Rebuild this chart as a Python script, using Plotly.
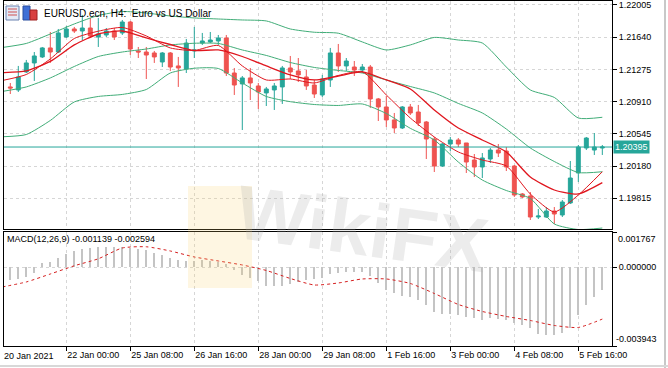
import plotly.graph_objects as go

# ---------------- data ----------------
bar_index = list(range(75))
open_ = [1.21076, 1.21042, 1.21246, 1.21348, 1.21416, 1.21518, 1.21472, 1.21642, 1.21733, 1.21710,
         1.21744, 1.21642, 1.21665, 1.21710, 1.21688, 1.21812, 1.21484, 1.21472, 1.21461, 1.21359,
         1.21461, 1.21314, 1.21280, 1.21484, 1.21574, 1.21586, 1.21597, 1.21631, 1.21234, 1.21110,
         1.21178, 1.21087, 1.21008, 1.21042, 1.21076, 1.21291, 1.21257, 1.21189, 1.21098, 1.20985,
         1.21155, 1.21461, 1.21314, 1.21302, 1.21268, 1.21302, 1.20940, 1.20849, 1.20702, 1.20611,
         1.20849, 1.20792, 1.20679, 1.20486, 1.20180, 1.20429, 1.20475, 1.20441, 1.20248, 1.20169,
         1.20259, 1.20361, 1.20350, 1.20180, 1.19863, 1.19840, 1.19602, 1.19602, 1.19670, 1.19625,
         1.19761, 1.20101, 1.20384, 1.20361, 1.20384]
high = [1.21121, 1.21314, 1.21382, 1.21472, 1.21529, 1.21699, 1.21733, 1.21767, 1.21756, 1.21892,
        1.21858, 1.21858, 1.21744, 1.21744, 1.21835, 1.21824, 1.21529, 1.21529, 1.21484, 1.21472,
        1.21472, 1.21416, 1.21620, 1.21756, 1.21688, 1.21699, 1.21665, 1.21665, 1.21291, 1.21200,
        1.21291, 1.21121, 1.21076, 1.21121, 1.21314, 1.21427, 1.21404, 1.21268, 1.21155, 1.21212,
        1.21518, 1.21563, 1.21404, 1.21370, 1.21336, 1.21325, 1.20951, 1.20974, 1.20781, 1.20860,
        1.20883, 1.20872, 1.20690, 1.20509, 1.20441, 1.20509, 1.20497, 1.20441, 1.20316, 1.20327,
        1.20384, 1.20429, 1.20395, 1.20191, 1.19874, 1.19885, 1.19693, 1.19715, 1.19715, 1.19795,
        1.20237, 1.20418, 1.20509, 1.20554, 1.20418]
low = [1.20996, 1.21019, 1.21234, 1.21144, 1.21404, 1.21348, 1.21461, 1.21631, 1.21688, 1.21608,
       1.21642, 1.21529, 1.21642, 1.21608, 1.21665, 1.21438, 1.21404, 1.21166, 1.21348, 1.21302,
       1.21257, 1.21076, 1.21234, 1.21404, 1.21552, 1.21574, 1.21552, 1.21200, 1.20985, 1.20588,
       1.20928, 1.20826, 1.20860, 1.20815, 1.20883, 1.21166, 1.21132, 1.21042, 1.20951, 1.20962,
       1.21076, 1.21246, 1.21257, 1.21200, 1.21234, 1.20838, 1.20690, 1.20622, 1.20554, 1.20599,
       1.20758, 1.20633, 1.20259, 1.20112, 1.20169, 1.20350, 1.20395, 1.20101, 1.20055, 1.20044,
       1.20214, 1.20282, 1.20123, 1.19829, 1.19817, 1.19568, 1.19579, 1.19591, 1.19523, 1.19602,
       1.19749, 1.19999, 1.20361, 1.20305, 1.20305]
close = [1.21064, 1.21189, 1.21348, 1.21427, 1.21518, 1.21472, 1.21688, 1.21733, 1.21710, 1.21744,
         1.21654, 1.21676, 1.21710, 1.21642, 1.21812, 1.21506, 1.21472, 1.21438, 1.21416, 1.21461,
         1.21302, 1.21291, 1.21574, 1.21495, 1.21597, 1.21608, 1.21631, 1.21234, 1.21098, 1.21178,
         1.21121, 1.21019, 1.21053, 1.21087, 1.21291, 1.21246, 1.21212, 1.21087, 1.20996, 1.21166,
         1.21461, 1.21314, 1.21370, 1.21268, 1.21302, 1.20940, 1.20849, 1.20702, 1.20611, 1.20849,
         1.20781, 1.20668, 1.20486, 1.20180, 1.20429, 1.20475, 1.20429, 1.20225, 1.20169, 1.20271,
         1.20361, 1.20327, 1.20169, 1.19851, 1.19829, 1.19602, 1.19613, 1.19670, 1.19636, 1.19772,
         1.20044, 1.20395, 1.20497, 1.20395, 1.20395]

macd_hist = [-0.000636, -0.000586, -0.000486, -0.000286, 0.000215, 0.000265, 0.000466, 0.000666, 0.000816, 0.000917,
             0.000967, 0.001017, 0.001017, 0.001017, 0.001017, 0.000967, 0.000917, 0.000867, 0.000716, 0.000616,
             0.000466, 0.000366, 0.000316, 0.000316, 0.000366, 0.000316, 0.000265, 0.000165, -0.000135, -0.000386,
             -0.000536, -0.000686, -0.000937, -0.000937, -0.000922, -0.000852, -0.000736, -0.000636, -0.000586, -0.000536,
             -0.000336, -0.000286, -0.000235, -0.000235, -0.000235, -0.000436, -0.000786, -0.001137, -0.001287, -0.001438,
             -0.001488, -0.001638, -0.001888, -0.002239, -0.002339, -0.002339, -0.002389, -0.002489, -0.002540, -0.002640,
             -0.002540, -0.002590, -0.002640, -0.002790, -0.002890, -0.003040, -0.003341, -0.003391, -0.003391, -0.003291,
             -0.003040, -0.002389, -0.001888, -0.001488, -0.001139]

# indicator lines, read every third bar
line_idx = [-1, 2, 5, 8, 11, 14, 17, 20, 23, 26, 29, 32, 35, 38, 41, 44, 47, 50, 53, 56, 59, 62, 65, 68, 71, 74]
bb_upper = [1.21523, 1.21569, 1.21676, 1.21790, 1.21886, 1.21931, 1.21914, 1.21880, 1.21858, 1.21846, 1.21835, 1.21824, 1.21733,
            1.21696, 1.21685, 1.21586, 1.21495, 1.21552, 1.21637, 1.21608, 1.21574, 1.21302, 1.21042, 1.20957, 1.20724, 1.20732]
bb_middle = [1.21025, 1.21076, 1.21178, 1.21308, 1.21421, 1.21472, 1.21506, 1.21552, 1.21571, 1.21569, 1.21495, 1.21433, 1.21353,
             1.21297, 1.21263, 1.21234, 1.21155, 1.21081, 1.21008, 1.20889, 1.20781, 1.20599, 1.20384, 1.20231, 1.20106, 1.20115]
bb_lower = [1.20511, 1.20537, 1.20696, 1.20906, 1.20968, 1.20991, 1.21047, 1.21234, 1.21288, 1.21285, 1.21121, 1.20968, 1.20909,
            1.20877, 1.20866, 1.20883, 1.20775, 1.20607, 1.20475, 1.20225, 1.20021, 1.19902, 1.19812, 1.19523, 1.19460, 1.19477]
ma_fast = [1.21149, 1.21217, 1.21393, 1.21625, 1.21708, 1.21750, 1.21654, 1.21518, 1.21489, 1.21546, 1.21314, 1.21155, 1.21166,
           1.21121, 1.21206, 1.21249, 1.20985, 1.20724, 1.20509, 1.20339, 1.20248, 1.20180, 1.19863, 1.19659, 1.19851, 1.20115]
ma_slow = [1.21238, 1.21257, 1.21365, 1.21552, 1.21676, 1.21710, 1.21631, 1.21557, 1.21489, 1.21495, 1.21421, 1.21314, 1.21212,
           1.21155, 1.21200, 1.21246, 1.21155, 1.21053, 1.20815, 1.20611, 1.20475, 1.20339, 1.20055, 1.19908, 1.19863, 1.19991]
macd_signal = [-0.000987, -0.000736, -0.000336, 0.000075, 0.000426, 0.000967, 0.001027, 0.000816, 0.000516, 0.000316, 0.000115,
               -0.000160, -0.000561, -0.000887, -0.000786, -0.000586, -0.000586, -0.000811, -0.001312, -0.001863, -0.002214,
               -0.002464, -0.002665, -0.002915, -0.003015, -0.002594]

time_tick_idx = [7, 15, 23, 31, 39, 47, 55, 63, 71]
time_tick_text = ["22 Jan 00:00", "25 Jan 08:00", "26 Jan 16:00", "28 Jan 00:00", "29 Jan 08:00",
                  "1 Feb 16:00", "3 Feb 00:00", "4 Feb 08:00", "5 Feb 16:00"]
first_date_label = "20 Jan 2021"
price_ticks = [1.22005, 1.21640, 1.21275, 1.20910, 1.20545, 1.20180, 1.19815]
price_range = [1.19466, 1.22050]
last_price = 1.20395
macd_max, macd_min = 0.001767, -0.003943
macd_main_last, macd_signal_last = -0.001139, -0.002594

# ---------------- styling ----------------
TEAL = "#26a69a"
RED = "#ef5350"
MA_RED = "#e0161e"
BB_GREEN = "#41ad78"
GRID = "#d6d6d6"
FONT = "Liberation Sans"

W, H = 668, 368
L, R, T, B = 4, 56, 1, 22


def px(x):
    return (x - L) / (W - L - R)


def py(y):
    return (H - B - y) / (H - T - B)


fig = go.Figure()

fig.add_trace(go.Candlestick(
    x=bar_index, open=open_, high=high, low=low, close=close,
    increasing=dict(line=dict(color=TEAL, width=1), fillcolor=TEAL),
    decreasing=dict(line=dict(color=RED, width=1), fillcolor=RED),
    whiskerwidth=0, hoverinfo="skip", xaxis="x", yaxis="y"))

for vals, col, w in [(bb_upper, BB_GREEN, 1), (bb_middle, BB_GREEN, 1), (bb_lower, BB_GREEN, 1),
                     (ma_slow, MA_RED, 1.3), (ma_fast, MA_RED, 1)]:
    fig.add_trace(go.Scatter(x=line_idx, y=vals, mode="lines", line=dict(color=col, width=w, shape="spline", smoothing=0.6),
                             hoverinfo="skip", xaxis="x", yaxis="y"))

fig.add_trace(go.Bar(x=bar_index, y=macd_hist, width=0.14, marker=dict(color="#c4c4c4", line=dict(width=0)),
                     hoverinfo="skip", xaxis="x2", yaxis="y2"))
fig.add_trace(go.Scatter(x=line_idx, y=macd_signal, mode="lines",
                         line=dict(color="#d62020", width=1, dash="3px,3px", shape="spline", smoothing=0.6),
                         hoverinfo="skip", xaxis="x2", yaxis="y2"))

xr = [-0.7875, 75.21]
main_dom = [py(229), 1]
macd_dom = [0, py(232)]
common_x = dict(range=xr, showline=True, mirror=True, linecolor="black", linewidth=1, zeroline=False,
                tickvals=time_tick_idx, showgrid=True, gridcolor=GRID, griddash="3px,3px", gridwidth=1,
                fixedrange=True)

fig.update_layout(
    width=W, height=H, margin=dict(l=L, r=R, t=T, b=B, autoexpand=False),
    paper_bgcolor="white", plot_bgcolor="white", showlegend=False,
    font=dict(family=FONT, size=9, color="black"),
    bargap=0,
    xaxis=dict(common_x, domain=[0, 1], anchor="y", showticklabels=False, ticks="",
               rangeslider=dict(visible=False)),
    xaxis2=dict(common_x, domain=[0, 1], anchor="y2", matches="x", ticktext=time_tick_text,
                ticks="outside", ticklen=4, tickcolor="black", ticklabelposition="outside right",
                tickfont=dict(family=FONT, size=9, color="black")),
    yaxis=dict(domain=main_dom, anchor="x", side="right", range=price_range, tickvals=price_ticks,
               ticktext=[f"{v:.5f}" for v in price_ticks], ticks="outside", ticklen=4, tickcolor="black",
               showline=True, mirror=True, linecolor="black", linewidth=1, zeroline=False,
               showgrid=True, gridcolor=GRID, griddash="3px,3px", fixedrange=True,
               tickfont=dict(family=FONT, size=9, color="black")),
    yaxis2=dict(domain=macd_dom, anchor="x2", side="right", range=[macd_min, macd_max],
                tickvals=[macd_max, 0, macd_min], ticktext=["", "0.000000", ""], ticks="outside", ticklen=4,
                tickcolor="black", showline=True, mirror=True, linecolor="black", linewidth=1, zeroline=False,
                showgrid=True, gridcolor=GRID, griddash="3px,3px", fixedrange=True,
                tickfont=dict(family=FONT, size=9, color="black")),
)

shapes = [
    # current price line
    dict(type="line", xref="paper", yref="y", x0=0, x1=1, y0=last_price, y1=last_price,
         line=dict(color=TEAL, width=1)),
    # watermark shield
    dict(type="rect", xref="paper", yref="paper", x0=px(188), x1=px(252), y0=py(288), y1=py(186),
         fillcolor="rgba(250,212,110,0.20)", line=dict(width=0), layer="above"),
    # title icons
    dict(type="rect", xref="paper", yref="paper", x0=px(6), x1=px(19), y0=py(20), y1=py(6),
         fillcolor="#e4eaf6", line=dict(color="#6b82b0", width=1)),
    dict(type="rect", xref="paper", yref="paper", x0=px(23), x1=px(30), y0=py(20), y1=py(6),
         fillcolor="#3f6fd6", line=dict(color="#2a4f9e", width=1)),
    dict(type="rect", xref="paper", yref="paper", x0=px(30), x1=px(37), y0=py(20), y1=py(10),
         fillcolor="#d84040", line=dict(color="#a02020", width=1)),
    # window edges
    dict(type="line", xref="paper", yref="paper", x0=px(665), x1=px(665), y0=py(368), y1=py(0),
         line=dict(color="#c8c8c8", width=2)),
    dict(type="line", xref="paper", yref="paper", x0=px(0), x1=px(668), y0=py(366), y1=py(366),
         line=dict(color="#d8d8d8", width=2)),
]
for yy in (9, 12, 15):
    shapes.append(dict(type="line", xref="paper", yref="paper", x0=px(8), x1=px(17), y0=py(yy), y1=py(yy),
                       line=dict(color="#d05050", width=1)))
fig.update_layout(shapes=shapes)

annotations = [
    dict(text="EURUSD.ecn,\u00a0H4:\u00a0\u00a0Euro\u00a0vs\u00a0US\u00a0Dollar", xref="paper", yref="paper",
         x=px(42), y=py(13), xanchor="left", yanchor="middle", showarrow=False,
         font=dict(family=FONT, size=10, color="black")),
    dict(text=f"MACD(12,26,9) {macd_main_last:.6f} {macd_signal_last:.6f}", xref="paper", yref="paper",
         x=px(5), y=py(239), xanchor="left", yanchor="middle", showarrow=False,
         font=dict(family=FONT, size=9, color="black")),
    dict(text=f"{last_price:.5f}", xref="paper", yref="y", x=1, y=last_price, xanchor="left", yanchor="middle",
         xshift=1, showarrow=False, bgcolor=TEAL, borderpad=1, font=dict(family=FONT, size=9, color="white")),
    dict(text=f"{macd_max:.6f}", xref="paper", yref="y2", x=1, y=macd_max, xanchor="left", yanchor="top",
         xshift=4, showarrow=False, font=dict(family=FONT, size=9, color="black")),
    dict(text=f"{macd_min:.6f}", xref="paper", yref="y2", x=1, y=macd_min, xanchor="left", yanchor="bottom",
         xshift=2, showarrow=False, font=dict(family=FONT, size=9, color="black")),
    dict(text=first_date_label, xref="paper", yref="paper", x=px(2), y=py(356), xanchor="left", yanchor="middle",
         showarrow=False, font=dict(family=FONT, size=9, color="black")),
    dict(text="<b>WikiFX</b>", xref="paper", yref="paper", x=px(362), y=py(228), xanchor="center", yanchor="middle",
         showarrow=False, textangle=8, font=dict(family=FONT, size=76, color="rgba(170,170,170,0.22)")),
]
fig.update_layout(annotations=annotations)

fig.write_html("out.html", config={"displayModeBar": False},
               post_script="document.body.style.margin='0';document.body.style.overflow='hidden';")
